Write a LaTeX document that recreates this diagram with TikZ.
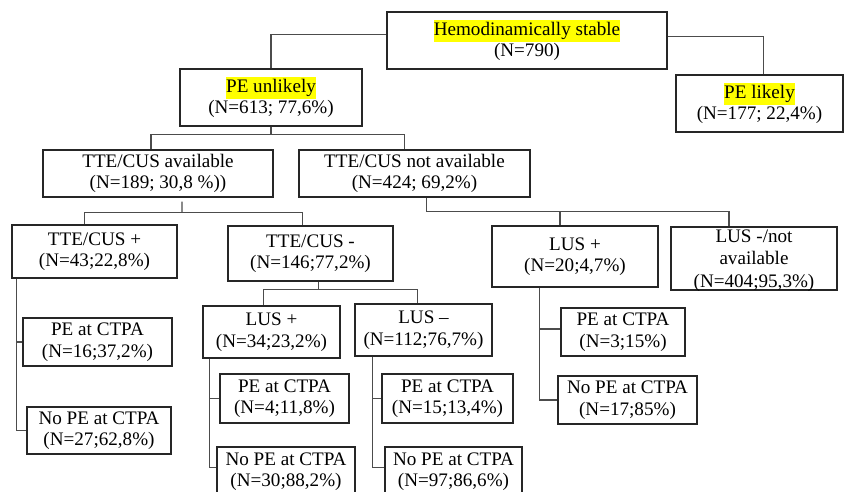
\documentclass[tikz,border=0pt]{standalone}
\usepackage{fontspec}
\setmainfont{Liberation Serif}
\usepackage{tikz}
\usetikzlibrary{positioning, calc}
\definecolor{hlyellow}{RGB}{255,255,0}
\newcommand{\hilite}[1]{{\setlength{\fboxsep}{0pt}\colorbox{hlyellow}{\strut #1}}}
\tikzset{
    fcbox/.style={draw=black!85, line width=0.8pt, align=center, inner sep=2pt, font=\fontsize{13.6}{15.3}\selectfont},
    fcline/.style={draw=black!70, line width=0.8pt},
}

\begin{document}
\begin{tikzpicture}
        \useasboundingbox (0,0) rectangle (21.125,-12.3);
        \node[fcbox, minimum width=7cm, minimum height=1.425cm] (stable) at (13.175,-1.0125) {\hilite{Hemodinamically stable}\\ (N=790)};
        \node[fcbox, minimum width=4.55cm, minimum height=1.425cm] (unlikely) at (6.775,-2.4375) {\hilite{PE unlikely}\\ (N=613; 77,6\%)};
        \node[fcbox, minimum width=4.175cm, minimum height=1.425cm] (likely) at (18.9875,-2.5875) {\hilite{PE likely}\\ (N=177; 22,4\%)};
        \node[fcbox, minimum width=5.75cm, minimum height=1.175cm] (avail) at (3.95,-4.3375) {TTE/CUS available\\ (N=189; 30,8 \%))};
        \node[fcbox, minimum width=5.775cm, minimum height=1.175cm] (navail) at (10.3625,-4.3375) {TTE/CUS not available\\ (N=424; 69,2\%)};
        \node[fcbox, minimum width=4.125cm, minimum height=1.325cm] (tteplus) at (2.3625,-6.2875) {TTE/CUS +\\ (N=43;22,8\%)};
        \node[fcbox, minimum width=4.125cm, minimum height=1.375cm] (tteminus) at (7.7625,-6.3375) {TTE/CUS -\\ (N=146;77,2\%)};
        \node[fcbox, minimum width=4.15cm, minimum height=1.525cm] (lusC) at (14.375,-6.4125) {LUS +\\ (N=20;4,7\%)};
        \node[fcbox, inner sep=0pt, text depth=0pt, font=\fontsize{13.6}{16}\selectfont, minimum width=4.15cm, minimum height=1.575cm] (lusneg) at (18.85,-6.4625) {LUS -/not\\ available\\ (N=404;95,3\%)};
        \node[fcbox, minimum width=3.725cm, minimum height=1.2cm] (tpPE) at (2.4375,-8.55) {PE at CTPA\\ (N=16;37,2\%)};
        \node[fcbox, minimum width=3.6cm, minimum height=1.175cm] (tpNoPE) at (2.475,-10.7625) {No PE at CTPA\\ (N=27;62,8\%)};
        \node[fcbox, minimum width=3.425cm, minimum height=1.3cm] (lusA) at (6.7875,-8.3) {LUS +\\ (N=34;23,2\%)};
        \node[fcbox, minimum width=3.425cm, minimum height=1.3cm] (lusB) at (10.5875,-8.25) {LUS –\\ (N=112;76,7\%)};
        \node[fcbox, minimum width=3.225cm, minimum height=1.225cm] (laPE) at (7.1125,-9.9625) {PE at CTPA\\ (N=4;11,8\%)};
        \node[fcbox, minimum width=3.45cm, minimum height=1.225cm] (laNoPE) at (7.15,-11.7875) {No PE at CTPA\\ (N=30;88,2\%)};
        \node[fcbox, minimum width=3.275cm, minimum height=1.225cm] (lbPE) at (11.1875,-9.9625) {PE at CTPA\\ (N=15;13,4\%)};
        \node[fcbox, minimum width=3.425cm, minimum height=1.225cm] (lbNoPE) at (11.3375,-11.7875) {No PE at CTPA\\ (N=97;86,6\%)};
        \node[fcbox, minimum width=3.1cm, minimum height=1.2cm] (lcPE) at (15.575,-8.3) {PE at CTPA\\ (N=3;15\%)};
        \node[fcbox, minimum width=3.475cm, minimum height=1.2cm] (lcNoPE) at (15.6875,-10.0) {No PE at CTPA\\ (N=17;85\%)};
        % top split
        \draw[fcline] ([yshift=0.14cm]stable.west) -| (unlikely.north);
        \draw[fcline] ([yshift=0.09cm]stable.east) -| ([xshift=0.11cm]likely.north);
        % bus lines under each parent
        \coordinate (busA) at ($(unlikely.south)+(0,-0.2)$);
        \coordinate (busB) at ($(avail.south)+(0.6,-0.375)$);
        \coordinate (busC) at ($(navail.south)+(0.29,-0.35)$);
        \coordinate (busD) at ($(tteminus.south)+(0.19,-0.2)$);
        \draw[fcline] (unlikely.south) -- (busA);
        \draw[fcline] ([xshift=-0.175cm]avail.north) |- (busA) -| ([xshift=-0.26cm]navail.north);
        \draw[fcline] ([xshift=0.6cm,yshift=-0.1cm]avail.south) -- (busB);
        \draw[fcline] ([xshift=-0.26cm]tteplus.north) |- (busB) -| ([xshift=-0.19cm]tteminus.north);
        \draw[fcline] ([xshift=0.29cm]navail.south) -- (busC);
        \draw[fcline] (busC) -| ([xshift=-0.625cm]lusneg.north);
        \draw[fcline] ([xshift=-0.375cm]lusC.north) |- (busC);
        \draw[fcline] ([xshift=0.19cm]tteminus.south) -- (busD);
        \draw[fcline] ([xshift=-0.21cm]lusA.north) |- (busD) -| ([xshift=-0.14cm]lusB.north);
        % side branches to the CTPA results
        \draw[fcline] ([xshift=0.125cm]tteplus.south west) |- (tpPE.west);
        \draw[fcline] ([xshift=0.125cm]tteplus.south west) |- (tpNoPE.west);
        \draw[fcline] ([xshift=0.175cm]lusA.south west) |- (laPE.west);
        \draw[fcline] ([xshift=0.175cm]lusA.south west) |- ([yshift=0.11cm]laNoPE.west);
        \draw[fcline] ([xshift=0.45cm]lusB.south west) |- (lbPE.west);
        \draw[fcline] ([xshift=0.45cm]lusB.south west) |- ([yshift=0.11cm]lbNoPE.west);
        \draw[fcline] ([xshift=1.2cm]lusC.south west) |- ([yshift=0.075cm]lcPE.west);
        \draw[fcline] ([xshift=1.2cm]lusC.south west) |- (lcNoPE.west);
    \end{tikzpicture}
\end{document}
